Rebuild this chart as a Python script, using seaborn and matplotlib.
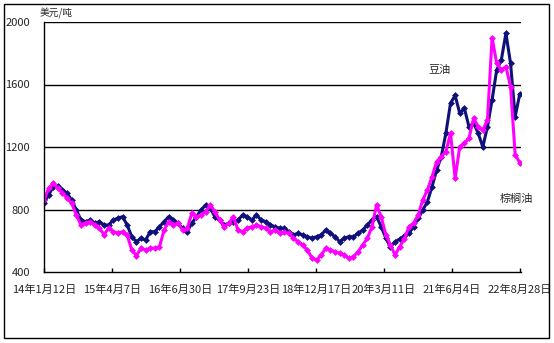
import matplotlib
matplotlib.use("Agg")
import matplotlib.pyplot as plt
import matplotlib.dates as mdates
from matplotlib.patches import Rectangle
import seaborn as sns
import pandas as pd

sns.set_theme(style="white")
plt.rcParams['font.family'] = ['Noto Sans CJK SC', 'DejaVu Sans']

# approx. monthly readings, 2014-01-12 .. 2022-08-26 (USD/ton)
soy_oil = [840, 893, 946, 950, 925, 904, 860, 797, 733, 722, 733, 712, 722, 701, 701, 733, 744, 754, 701, 626, 594, 616, 605, 658, 658, 690,
           722, 754, 733, 712, 680, 658, 712, 754, 797, 829, 807, 754, 733, 701, 712, 722, 733, 765, 754, 733, 765, 733, 722, 701, 690, 680,
           680, 658, 637, 648, 637, 626, 616, 626, 637, 669, 648, 626, 594, 616, 626, 626, 648, 669, 701, 733, 754, 690, 616, 560, 594, 610,
           630, 648, 690, 744, 797, 850, 946, 1053, 1138, 1288, 1480, 1530, 1416, 1448, 1330, 1352, 1288, 1200, 1330, 1501, 1693, 1757, 1928, 1735, 1394, 1540]
palm_oil = [860, 935, 967, 935, 904, 872, 840, 765, 701, 712, 722, 701, 680, 640, 680, 658, 648, 658, 637, 541, 505, 552, 541, 552, 552, 562,
            669, 722, 701, 712, 669, 680, 775, 754, 765, 786, 829, 786, 733, 690, 712, 754, 669, 658, 680, 690, 701, 690, 680, 658, 669, 648,
            655, 648, 616, 594, 573, 541, 490, 477, 509, 552, 541, 530, 520, 509, 488, 498, 530, 573, 616, 690, 830, 754, 637, 573, 509, 562,
            610, 690, 712, 765, 861, 925, 1010, 1106, 1138, 1170, 1288, 1000, 1202, 1224, 1256, 1384, 1330, 1309, 1373, 1900, 1735, 1693, 1714, 1586, 1150, 1100]
dates = pd.date_range("2014-01-12", "2022-08-26", periods=len(soy_oil))

tick_dates = ["2014-01-12", "2015-04-07", "2016-06-30", "2017-09-23",
              "2018-12-17", "2020-03-11", "2021-06-04", "2022-08-28"]
tick_labels = ["14年1月12日", "15年4月7日", "16年6月30日", "17年9月23日",
               "18年12月17日", "20年3月11日", "21年6月4日", "22年8月28日"]
y_ticks = [400, 800, 1200, 1600, 2000]

df = pd.DataFrame({"date": dates, "soy": soy_oil, "palm": palm_oil})

fig = plt.figure(figsize=(5.54, 3.43), dpi=100)
fig.patch.set_facecolor("white")
ax = fig.add_axes([44/554, 1-272/343, 477/554, 250/343])

sns.lineplot(data=df, x="date", y="soy", ax=ax, color="#10107a", lw=2.2,
             marker="D", markersize=3.5, markeredgewidth=0)
sns.lineplot(data=df, x="date", y="palm", ax=ax, color="#ff00ff", lw=2.2,
             marker="D", markersize=3.5, markeredgewidth=0)

ax.set_ylim(400, 2000)
ax.set_xlim(pd.Timestamp("2014-01-12"), pd.Timestamp("2022-09-03"))
ax.set_yticks(y_ticks)
ax.set_yticklabels([str(v) for v in y_ticks], fontsize=8)
ax.set_xticks([pd.Timestamp(d) for d in tick_dates])
ax.set_xticklabels(tick_labels, fontsize=8)
ax.tick_params(axis="x", direction="in", length=3, width=1, color="black", pad=9, bottom=True)
ax.tick_params(axis="y", length=0, pad=10)
for v in y_ticks[1:]:
    ax.axhline(v, color="black", lw=1, zorder=0)
for s in ["top", "right"]:
    ax.spines[s].set_visible(False)
for s in ["left", "bottom"]:
    ax.spines[s].set_color("black")
    ax.spines[s].set_linewidth(1)
ax.set_xlabel("")
ax.set_ylabel("")
ax.grid(False)

fig.text(40/554, 1-13/343, "美元/吨", fontsize=7, va="center", ha="left")
ax.text(pd.Timestamp("2021-03-10"), 1690, "豆油", fontsize=8, ha="center", va="center")
ax.text(pd.Timestamp("2022-08-05"), 867, "棕榈油", fontsize=8, ha="center", va="center")

fig.patches.append(Rectangle((4/554, 1-338/343), 545/554, 334/343, transform=fig.transFigure,
                             fill=False, edgecolor="black", lw=1))

fig.savefig("out.png", dpi=100)
